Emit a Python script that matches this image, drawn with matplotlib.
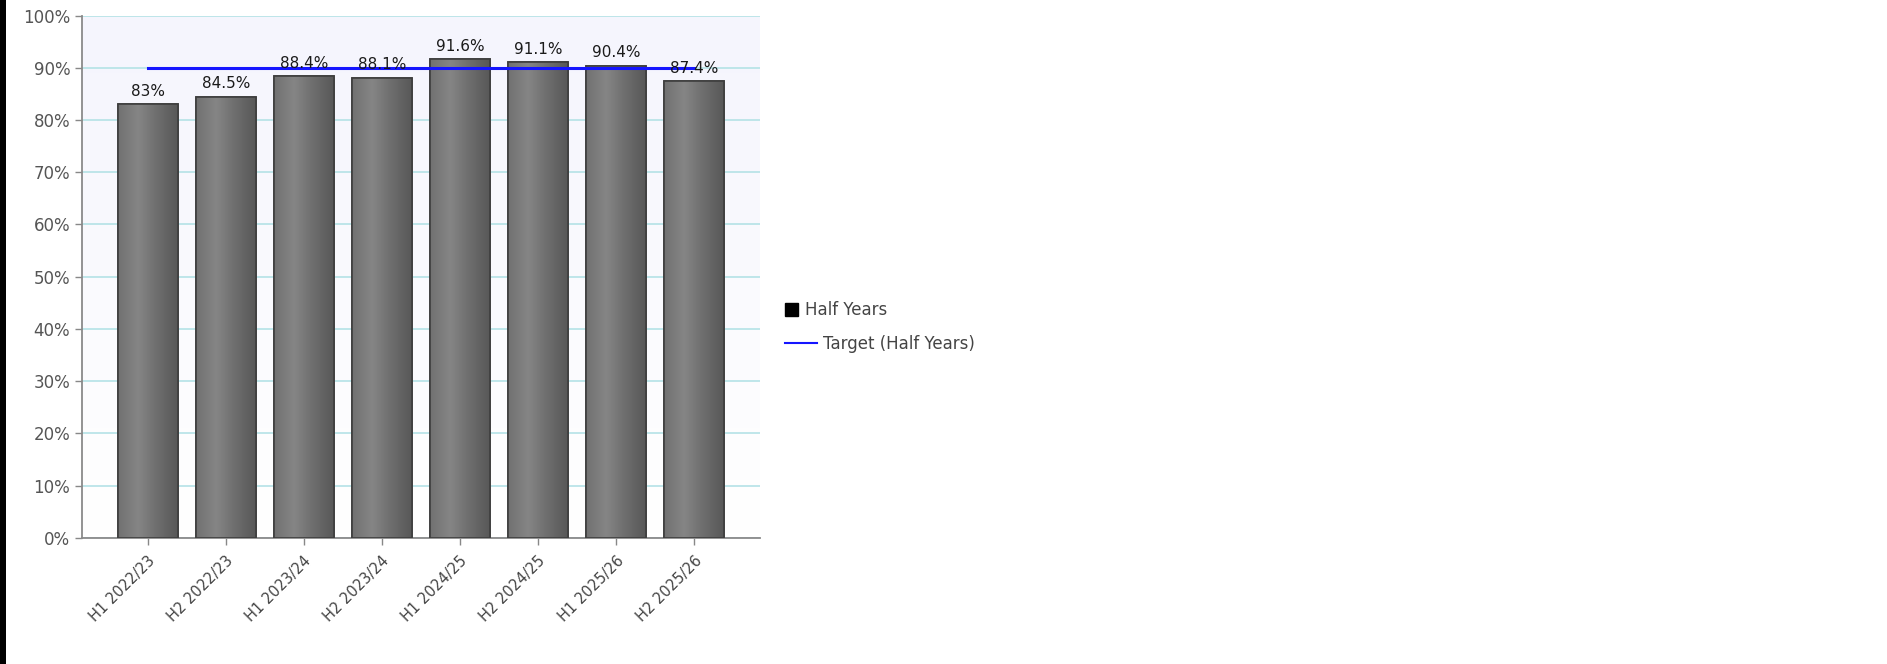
import numpy as np
import matplotlib.pyplot as plt
from matplotlib.patches import Patch, Rectangle
from matplotlib.lines import Line2D
from matplotlib.colors import LinearSegmentedColormap
from matplotlib.ticker import FuncFormatter

periods = ["H1 2022/23", "H2 2022/23", "H1 2023/24", "H2 2023/24",
           "H1 2024/25", "H2 2024/25", "H1 2025/26", "H2 2025/26"]
half_years = [83, 84.5, 88.4, 88.1, 91.6, 91.1, 90.4, 87.4]
target = [90, 90, 90, 90, 90, 90, 90, 90]
value_labels = ["83%", "84.5%", "88.4%", "88.1%", "91.6%", "91.1%", "90.4%", "87.4%"]

plt.rcParams['font.family'] = ['DejaVu Sans']

fig = plt.figure(figsize=(18.87, 6.64), dpi=100)
ax = fig.add_axes([0.0435, 0.19, 0.359, 0.7865])

x = np.arange(len(periods))
ax.set_xlim(-0.84, len(periods) - 0.16)
ax.set_ylim(0, 100)

# soft lavender background fading to white
bg = LinearSegmentedColormap.from_list("bg", ["#ffffff", "#f5f5fd"])
ax.imshow(np.linspace(0, 1, 100).reshape(-1, 1), cmap=bg, aspect="auto",
          extent=(-0.84, len(periods) - 0.16, 0, 100), origin="lower", zorder=0)

ax.set_yticks(range(0, 101, 10))
ax.yaxis.set_major_formatter(FuncFormatter(lambda v, p: f"{v:.0f}%"))
ax.grid(axis="y", color="#b4e2e6", lw=1.2, zorder=1)
ax.set_axisbelow(True)

bars = ax.bar(x, half_years, width=0.77, color="#707070", edgecolor="#3e3e3e",
              linewidth=1.2, zorder=3)

# horizontal gradient on each bar
grad = LinearSegmentedColormap.from_list("bar", ["#727272", "#858585", "#6c6c6c", "#585858"])
for b in bars:
    bx, by, bw, bh = b.get_x(), b.get_y(), b.get_width(), b.get_height()
    im = ax.imshow(np.linspace(0, 1, 64).reshape(1, -1), cmap=grad, aspect="auto",
                   extent=(bx, bx + bw, by, by + bh), zorder=3.5)
    im.set_clip_path(b)
    ax.add_patch(Rectangle((bx, by), bw, bh, fill=False, edgecolor="#3e3e3e",
                           lw=1.2, zorder=3.6))

ax.plot(x, target, color="#1515ff", lw=2.2, zorder=4)

for xi, v, lab in zip(x, half_years, value_labels):
    ax.annotate(lab, (xi, v), xytext=(0, 4), textcoords="offset points",
                ha="center", va="bottom", fontsize=11, color="#1a1a1a", zorder=5)

ax.set_xticks(x)
ax.set_xticklabels(periods, rotation=45, ha="right", rotation_mode="anchor",
                   fontsize=10.5)
ax.tick_params(axis="y", labelsize=12, color="#888888", labelcolor="#555555",
               length=5, width=1)
ax.tick_params(axis="x", color="#888888", labelcolor="#444444",
               length=5, width=1, pad=6)

for s in ["top", "right"]:
    ax.spines[s].set_visible(False)
for s in ["left", "bottom"]:
    ax.spines[s].set_color("#8a8a8a")
    ax.spines[s].set_linewidth(1.3)

# two legends so each handle keeps its own width
fig.legend([Patch(facecolor="black", edgecolor="black")], ["Half Years"],
           loc="center left", bbox_to_anchor=(0.416, 0.533), frameon=False,
           fontsize=12, handlelength=0.8, handleheight=0.8, handletextpad=0.4,
           borderpad=0, borderaxespad=0, labelcolor="#444444")
fig.legend([Line2D([0], [0], color="#1515ff", lw=1.5)], ["Target (Half Years)"],
           loc="center left", bbox_to_anchor=(0.416, 0.482), frameon=False,
           fontsize=12, handlelength=1.9, handletextpad=0.4,
           borderpad=0, borderaxespad=0, labelcolor="#444444")

# black strip along the left edge
fig.patches.append(Rectangle((0, 0), 6 / 1887, 1, transform=fig.transFigure,
                             facecolor="black", edgecolor="none", zorder=10))

plt.savefig("out.png", dpi=100)
plt.close()
